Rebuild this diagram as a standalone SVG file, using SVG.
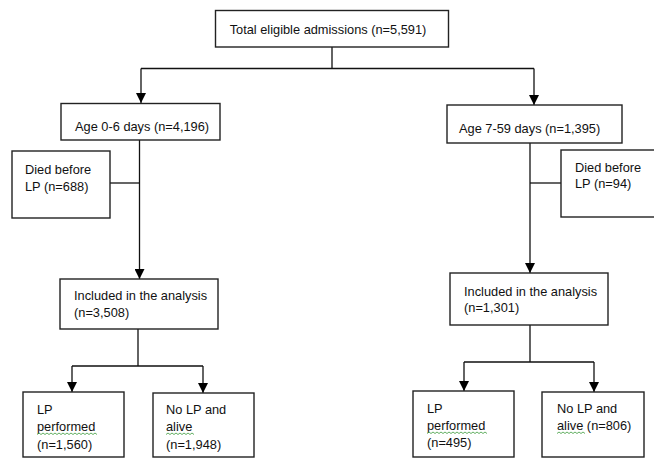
<svg xmlns="http://www.w3.org/2000/svg" width="654" height="458" viewBox="0 0 654 458">
<defs>
<marker id="ah" viewBox="0 0 10 10" refX="10" refY="5" markerWidth="10" markerHeight="10" markerUnits="userSpaceOnUse" orient="auto">
<path d="M0,0 L10,5 L0,10 z" fill="#000"/>
</marker>
<style>
.box{fill:#fff;stroke:#222;stroke-width:1.4}
.t{font-family:"Liberation Sans",Arial,sans-serif;font-size:12.8px;fill:#111}
.c{fill:none;stroke:#111;stroke-width:1.3}
.a{fill:none;stroke:#111;stroke-width:1.3;marker-end:url(#ah)}
.w{fill:none;stroke:#3a9a3a;stroke-width:0.8}
</style>
</defs>
<rect width="654" height="458" fill="#fff"/>
<g id="connectors">
<path class="c" d="M332,47 V68.5 M141,68.5 H534"/>
<path class="a" d="M141,68.5 V103"/>
<path class="a" d="M534,68.5 V105"/>
<path class="a" d="M139.5,140 V279"/>
<path class="c" d="M110,183 H139.5"/>
<path class="a" d="M530,143 V273"/>
<path class="c" d="M561,183 H530"/>
<path class="c" d="M138,329 V366 M72,366 H203"/>
<path class="a" d="M72,366 V392"/>
<path class="a" d="M203,366 V393"/>
<path class="c" d="M530,325 V362 M464,362 H594"/>
<path class="a" d="M464,362 V391"/>
<path class="a" d="M594,362 V392"/>
</g>
<g id="total">
<rect class="box" x="215.5" y="10.5" width="233" height="36.5"/>
<text class="t" x="328" y="34" text-anchor="middle">Total eligible admissions (n=5,591)</text>
</g>
<g id="age06">
<rect class="box" x="61" y="103.5" width="159" height="36.5"/>
<text class="t" x="75" y="130.5">Age 0-6 days (n=4,196)</text>
</g>
<g id="age759">
<rect class="box" x="447" y="105" width="175" height="38"/>
<text class="t" x="459" y="132.5">Age 7-59 days (n=1,395)</text>
</g>
<g id="died1">
<rect class="box" x="12" y="151" width="98" height="67"/>
<text class="t" x="25" y="173.5">Died before</text>
<text class="t" x="25" y="190.5">LP (n=688)</text>
</g>
<g id="died2">
<rect class="box" x="561" y="150" width="96" height="67"/>
<text class="t" x="575" y="171.5">Died before</text>
<text class="t" x="575" y="188">LP (n=94)</text>
</g>
<g id="incl1">
<rect class="box" x="60" y="279" width="158" height="50"/>
<text class="t" x="74" y="299.5">Included in the analysis</text>
<text class="t" x="74" y="316.5">(n=3,508)</text>
</g>
<g id="incl2">
<rect class="box" x="450" y="273" width="158" height="52"/>
<text class="t" x="464" y="295.5">Included in the analysis</text>
<text class="t" x="464" y="311.5">(n=1,301)</text>
</g>
<g id="lp1">
<rect class="box" x="23" y="392" width="101" height="65"/>
<text class="t" x="37" y="413.5">LP</text>
<text class="t" x="37" y="431">performed</text>
<path class="w" d="M37,434.5 l2,-1.5 l2,1.5 l2,-1.5 l2,1.5 l2,-1.5 l2,1.5 l2,-1.5 l2,1.5 l2,-1.5 l2,1.5 l2,-1.5 l2,1.5 l2,-1.5 l2,1.5 l2,-1.5 l2,1.5 l2,-1.5 l2,1.5 l2,-1.5 l2,1.5 l2,-1.5 l2,1.5 l2,-1.5 l2,1.5 l2,-1.5 l2,1.5 l2,-1.5 l2,1.5 l2,-1.5 l2,1.5"/>
<text class="t" x="37" y="448.5">(n=1,560)</text>
</g>
<g id="nolp1">
<rect class="box" x="153" y="393" width="101" height="64"/>
<text class="t" x="166" y="413.5">No LP and</text>
<text class="t" x="166" y="431">alive</text>
<path class="w" d="M166,434.5 l2,-1.5 l2,1.5 l2,-1.5 l2,1.5 l2,-1.5 l2,1.5 l2,-1.5 l2,1.5 l2,-1.5 l2,1.5 l2,-1.5 l2,1.5 l2,-1.5 l2,1.5"/>
<text class="t" x="166" y="448.5">(n=1,948)</text>
</g>
<g id="lp2">
<rect class="box" x="413" y="391" width="101" height="66"/>
<text class="t" x="427" y="412.5">LP</text>
<text class="t" x="427" y="430">performed</text>
<path class="w" d="M427,433.5 l2,-1.5 l2,1.5 l2,-1.5 l2,1.5 l2,-1.5 l2,1.5 l2,-1.5 l2,1.5 l2,-1.5 l2,1.5 l2,-1.5 l2,1.5 l2,-1.5 l2,1.5 l2,-1.5 l2,1.5 l2,-1.5 l2,1.5 l2,-1.5 l2,1.5 l2,-1.5 l2,1.5 l2,-1.5 l2,1.5 l2,-1.5 l2,1.5 l2,-1.5 l2,1.5 l2,-1.5 l2,1.5"/>
<text class="t" x="427" y="446.5">(n=495)</text>
</g>
<g id="nolp2">
<rect class="box" x="542" y="392" width="102" height="65"/>
<text class="t" x="557" y="412.5">No LP and</text>
<text class="t" x="557" y="430">alive (n=806)</text>
<path class="w" d="M557,433.5 l2,-1.5 l2,1.5 l2,-1.5 l2,1.5 l2,-1.5 l2,1.5 l2,-1.5 l2,1.5 l2,-1.5 l2,1.5 l2,-1.5 l2,1.5 l2,-1.5 l2,1.5"/>
</g>
</svg>
